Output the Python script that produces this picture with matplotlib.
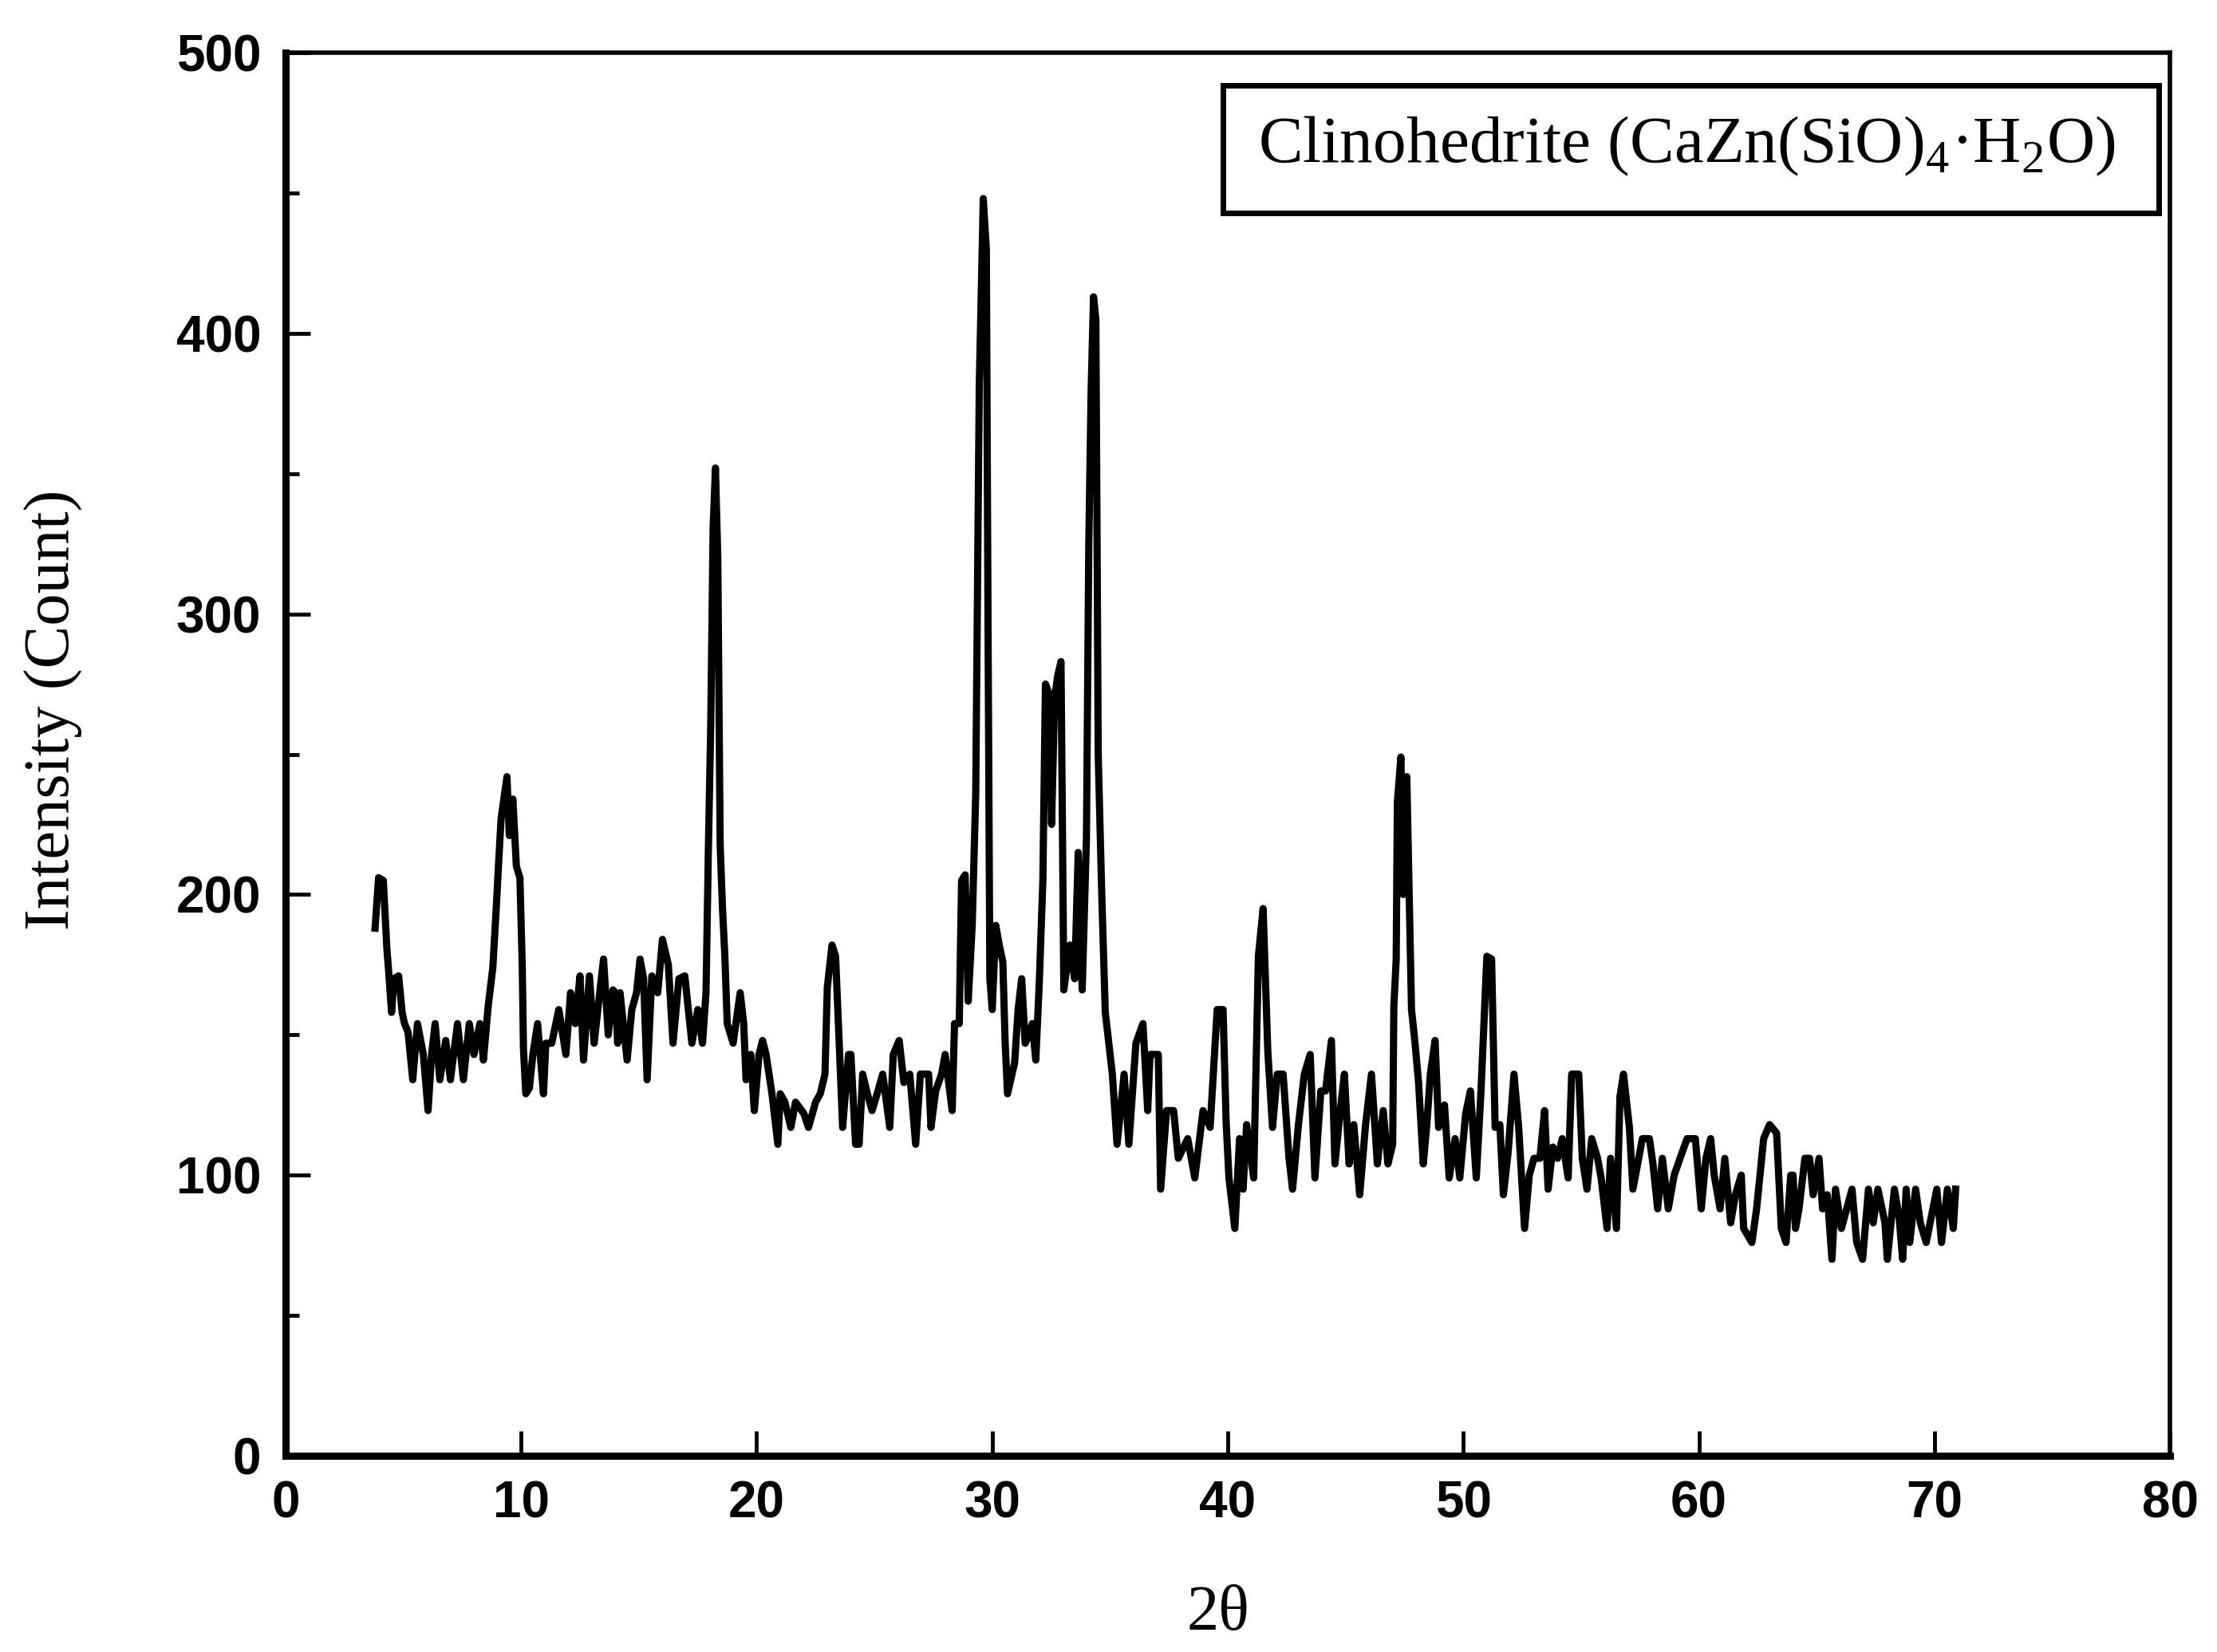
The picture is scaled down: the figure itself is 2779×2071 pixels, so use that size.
import matplotlib
matplotlib.use("Agg")
import matplotlib.pyplot as plt
from matplotlib.patches import Rectangle

# XRD pattern (2theta in degrees, intensity in counts)
two_theta = [
    3.8, 3.95, 4.15, 4.3, 4.4, 4.5, 4.6, 4.8, 4.95, 5.05, 5.2, 5.4, 5.6, 5.85, 6.05, 6.2, 6.35,
    6.55, 6.8, 7.0, 7.3, 7.55, 7.8, 8.0, 8.25, 8.4, 8.6, 8.8, 8.95, 9.05, 9.15, 9.4, 9.5, 9.65,
    9.8, 9.95, 10.05, 10.1, 10.2, 10.35, 10.5, 10.7, 10.95, 11.05, 11.3, 11.6, 11.9, 12.1, 12.3,
    12.5, 12.65, 12.9, 13.1, 13.35, 13.5, 13.7, 13.9,
    14.0, 14.1, 14.2, 14.5, 14.7, 14.9, 15.05, 15.2, 15.35, 15.55, 15.8, 16.0, 16.25, 16.45,
    16.7, 16.95, 17.25, 17.5, 17.7, 17.85, 17.95, 18.05, 18.15, 18.25, 18.35, 18.45, 18.55,
    18.65, 18.75, 19.0, 19.2, 19.3, 19.45, 19.55, 19.75, 19.9, 20.1, 20.25, 20.4, 20.65, 20.9,
    21.0, 21.2, 21.45, 21.65, 22.0, 22.2, 22.5, 22.7, 22.9, 23.0, 23.2, 23.35, 23.5, 23.65, 23.9,
    24.0, 24.2, 24.35, 24.5, 24.7, 24.9, 25.15, 25.35, 25.65, 25.8, 26.05, 26.25, 26.5, 26.75,
    26.95, 27.3, 27.4, 27.6, 27.85, 28.0, 28.3, 28.4, 28.6, 28.7, 28.85, 28.98, 29.15, 29.3,
    29.45, 29.62, 29.75, 29.82, 29.9, 30.0, 30.15, 30.3, 30.45, 30.55, 30.65, 30.95, 31.1, 31.25,
    31.4, 31.55, 31.7, 31.85, 32.0, 32.15, 32.26, 32.4, 32.52, 32.65, 32.78, 32.92, 33.04, 33.3,
    33.5, 33.65, 33.82, 34.0, 34.1, 34.2, 34.3, 34.4, 34.5, 34.65, 34.8, 34.95, 35.1, 35.3, 35.6,
    35.8, 36.1, 36.4, 36.6, 36.7, 37.05, 37.15, 37.4, 37.7, 37.9, 38.3, 38.6, 38.95, 39.25, 39.55,
    39.8, 39.93, 40.05, 40.3, 40.5, 40.65, 40.8, 41.1, 41.3, 41.5, 41.7, 41.9, 42.1, 42.35, 42.6,
    42.75, 43.0, 43.25, 43.5, 43.7, 43.95,
    44.15, 44.4, 44.55, 44.75, 44.95, 45.15, 45.35, 45.6, 45.85, 46.1, 46.35, 46.6, 46.8, 47.0,
    47.05, 47.15, 47.2, 47.35, 47.45, 47.6, 47.8, 47.95, 48.1, 48.3, 48.45, 48.6, 48.8, 48.95,
    49.2, 49.4, 49.65, 49.85, 50.1, 50.3, 50.55, 50.75, 51.0, 51.2, 51.35, 51.55, 51.7, 51.9,
    52.15, 52.35, 52.6, 52.8, 53.0, 53.25, 53.45, 53.6, 53.8,
    54.0, 54.2, 54.45, 54.6, 54.9, 55.05, 55.25, 55.45, 55.7, 55.85, 56.1, 56.25, 56.5, 56.65,
    56.8, 57.05, 57.2, 57.4, 57.6, 57.9, 58.05, 58.25, 58.45, 58.7, 58.95, 59.2, 59.5, 59.85,
    60.1, 60.3, 60.5, 60.65, 60.9, 61.1, 61.35, 61.55, 61.8, 61.9, 62.25, 62.45, 62.75, 63.0,
    63.3, 63.5, 63.7, 63.9,
    64.0, 64.1, 64.25, 64.5, 64.7, 64.85, 65.1, 65.25, 65.45, 65.65, 65.8, 66.05, 66.5, 66.7,
    66.95, 67.2, 67.4, 67.6, 67.9, 68.0, 68.3, 68.5, 68.65, 68.8, 68.95, 69.2, 69.4, 69.65,
    70.1, 70.3, 70.55, 70.8, 70.9,
]
intensity = [
    188, 206, 205, 181, 170, 158, 170, 171, 158, 154, 151, 134, 154, 143, 123, 143, 154,
    134, 148, 134, 154, 134, 154, 143, 154, 141, 160, 174, 196, 212, 227, 242, 221, 234,
    210, 206, 174, 145, 129, 131, 143, 154, 129, 147, 147, 159, 143, 165, 154,
    171, 141, 171, 147, 166, 177, 150, 166,
    165, 147, 165, 141, 159, 165, 177, 170, 134, 171, 165, 184, 175, 147,
    170, 171, 147, 159, 147, 165, 216, 260, 330, 352, 320, 218, 195,
    178, 154, 147, 159, 165, 154, 134, 143, 123, 143, 148, 143, 129, 111,
    129, 126, 117, 126, 122, 117, 126, 129, 136, 167, 182, 178, 148, 117, 143,
    143, 111, 111, 136, 129, 123, 130, 136, 117, 143, 148, 133, 136, 111,
    136, 136, 117, 130, 136, 143, 123, 154, 154, 205, 207, 162, 189, 236,
    381, 448, 430, 300, 170, 159, 189, 182, 176, 147, 129, 140, 159, 170,
    147, 150, 154, 141, 169, 205, 275, 272, 225, 270, 278, 283, 166, 182,
    170, 215, 166, 220, 325, 380, 413, 405, 250, 200, 158, 147, 136, 111, 136,
    111, 147, 154, 123, 143, 143, 95, 123, 123, 106, 113, 99, 123, 117, 159,
    159, 119, 99, 81, 113, 95, 118, 99, 178, 195, 144, 117, 136, 136, 106,
    95, 118, 136, 143, 99, 130,
    130, 148, 104, 121, 136, 104, 118, 93, 118, 136, 104, 123, 104, 111,
    160, 177, 233, 249, 200, 242, 159, 147, 133, 104, 118, 136, 148, 117,
    125, 99, 113, 99, 122, 130, 99, 130, 178, 177, 117, 118, 93, 108,
    136, 117, 81, 100, 106, 106, 123, 95, 110,
    106, 113, 99, 136, 136, 106, 95, 113, 106, 99, 81, 106, 81, 128,
    136, 117, 95, 104, 113, 113, 104, 88, 106, 88, 100, 106, 113, 113,
    88, 106, 113, 100, 88, 106, 83, 93, 100, 81, 76, 88, 113, 118,
    115, 81, 76, 100,
    100, 81, 88, 106, 106, 93, 106, 88, 93, 70, 95, 81, 95, 76,
    70, 95, 83, 95, 83, 70, 95, 85, 70, 95, 76, 95, 83, 76,
    95, 76, 95, 81, 95,
]

x_ticks = [0, 10, 20, 30, 40, 50, 60, 70, 80]
y_ticks = [0, 100, 200, 300, 400, 500]
phase_label = r"Clinohedrite (CaZn(SiO)$_\mathregular{4}$·H$_\mathregular{2}$O)"

serif = ["Liberation Serif", "DejaVu Serif"]

fig = plt.figure(figsize=(27.79, 20.71), dpi=100)
ax = fig.add_axes([0.1288, 0.1188, 0.85, 0.8493])

ax.plot(two_theta, intensity, color="black", lw=6.5, solid_joinstyle="round")

ax.set_xlim(0, 80)
ax.set_ylim(0, 500)
ax.set_xticks(x_ticks)
ax.set_yticks(y_ticks)
ax.set_yticks([50, 150, 250, 350, 450], minor=True)

for side in ["left", "bottom"]:
    ax.spines[side].set_linewidth(6.5)
for side in ["top", "right"]:
    ax.spines[side].set_linewidth(4)

ax.tick_params(axis="both", which="major", direction="in", length=22, width=3.5,
               labelsize=46, pad=22)
ax.tick_params(axis="y", which="minor", direction="in", length=12, width=3.5)
for lab in ax.get_xticklabels() + ax.get_yticklabels():
    lab.set_family(["Liberation Sans", "DejaVu Sans"])
    lab.set_fontweight("bold")

# phase label box
ax.add_patch(Rectangle((0.4975, 0.886), 0.4965, 0.091, transform=ax.transAxes,
                       fill=False, lw=5, color="black"))
plt.rcParams["mathtext.fontset"] = "custom"
plt.rcParams["mathtext.rm"] = "Liberation Serif"
ax.text(0.7434, 0.9335, phase_label, transform=ax.transAxes, ha="center", va="center",
        fontsize=60, family=serif)

fig.text(0.0241, 0.5703, "Intensity (Count)", rotation=90, ha="center", va="center",
         fontsize=58, family=serif)
fig.text(0.5495, 0.0227, "2θ", ha="center", va="center", fontsize=58, family=serif)

fig.savefig("out.png", dpi=100, facecolor="white")
